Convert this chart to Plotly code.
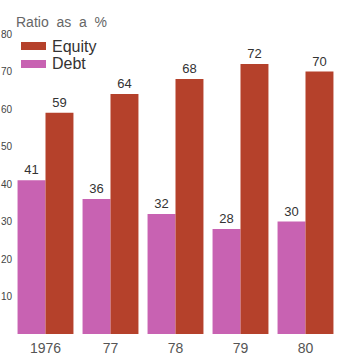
import plotly.graph_objects as go

years = ["1976", "77", "78", "79", "80"]
equity = [59, 64, 68, 72, 70]
debt = [41, 36, 32, 28, 30]
series_names = ["Debt", "Equity"]
series_colors = {"Debt": "#C862B2", "Equity": "#B5412B"}
y_ticks = [10, 20, 30, 40, 50, 60, 70, 80]
title_text = "Ratio  as  a  %"

FONT = "Liberation Sans, Arial, sans-serif"

fig = go.Figure()
for name, vals in (("Debt", debt), ("Equity", equity)):
    fig.add_trace(go.Bar(
        x=years, y=vals, name=name,
        marker=dict(color=series_colors[name], line=dict(width=0)),
        text=[str(v) for v in vals], textposition="outside",
        textfont=dict(family=FONT, size=13, color="#333333"),
        cliponaxis=False, showlegend=False,
    ))

# Manual legend (wide rectangular swatches as in the reference)
W, H = 338, 358
ml, mr, mt, mb = 13, 0, 34, 24
pw, ph = W - ml - mr, H - mt - mb

def px(x):
    return (x - ml) / pw

def py(y):
    return (H - mb - y) / ph

legend_items = [("Equity", 42), ("Debt", 60)]
for name, top in legend_items:
    fig.add_shape(type="rect", xref="paper", yref="paper",
                  x0=px(21), x1=px(46), y0=py(top + 8), y1=py(top),
                  fillcolor=series_colors[name], line=dict(width=0))
    fig.add_annotation(xref="paper", yref="paper", x=px(50), y=py(top + 4),
                       xanchor="left", yanchor="middle", showarrow=False,
                       text=name, font=dict(family=FONT, size=16, color="#333333"))

fig.add_annotation(xref="paper", yref="paper", x=px(14), y=py(22),
                   xanchor="left", yanchor="middle", showarrow=False,
                   text=title_text, font=dict(family=FONT, size=14, color="#666666"))

fig.update_layout(
    width=W, height=H,
    margin=dict(l=ml, r=mr, t=mt, b=mb, pad=0, autoexpand=False),
    paper_bgcolor="white", plot_bgcolor="white",
    barmode="group", bargap=0.14, bargroupgap=0,
    font=dict(family=FONT, color="#444444"),
    xaxis=dict(showgrid=False, showline=False, zeroline=False, ticks="",
               automargin=False,
               tickfont=dict(family=FONT, size=14, color="#555555"),
               ticklabelstandoff=4),
    yaxis=dict(range=[0, 80], showgrid=False, showline=False, zeroline=False,
               automargin=False,
               ticks="", tickvals=y_ticks, ticktext=[str(v) for v in y_ticks],
               tickfont=dict(family=FONT, size=10, color="#444444"),
               ticklabelstandoff=0),
)

fig.write_html("out.html")
